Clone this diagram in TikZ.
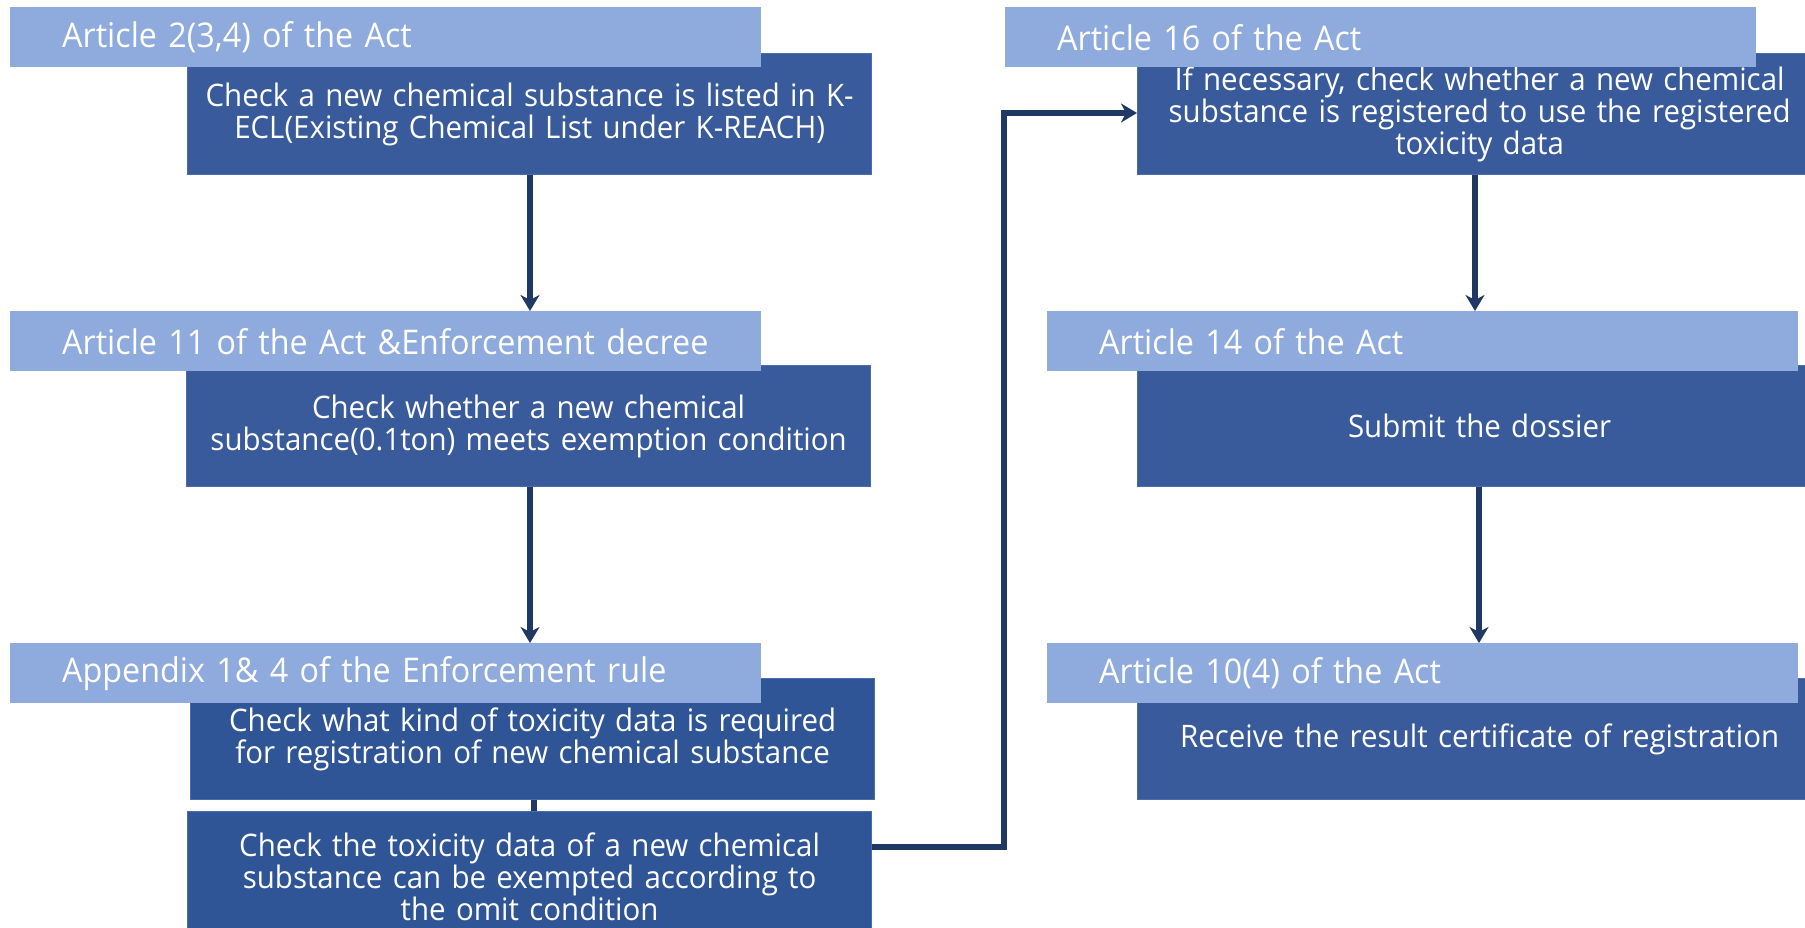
\documentclass[tikz,border=0pt]{standalone}
\usepackage{fontspec}
\setmainfont[FakeStretch=0.95]{Open Sans}
\usetikzlibrary{arrows.meta}
\definecolor{hdr}{RGB}{143,170,220}
\definecolor{boxa}{RGB}{58,91,155}
\definecolor{boxb}{RGB}{47,85,151}
\definecolor{boxedge}{RGB}{74,109,173}
\definecolor{arr}{RGB}{32,56,100}
\tikzset{
  hdrbox/.style={rectangle, fill=hdr, anchor=north west, minimum width=751pt, minimum height=60pt,
    inner xsep=52pt, inner ysep=0pt, text width=647pt, align=left, text=white,
    font=\fontsize{34}{35}\selectfont},
  mainbox/.style={rectangle, fill=boxa, draw=boxedge, line width=1.2pt, anchor=north west,
    minimum width=684pt, minimum height=121pt, inner sep=0pt, text width=676pt, align=center,
    text=white, font=\fontsize{31}{32}\selectfont},
  flow/.style={draw=arr, line width=5.5pt, -{Stealth[length=16pt,width=19pt,inset=5pt]}},
  link/.style={draw=arr, line width=5.5pt}
}
\begin{document}
\begin{tikzpicture}[x=1pt,y=-1pt]
\clip (0,0) rectangle (1805,928);
\fill[white] (0,0) rectangle (1805,928);
% main boxes
\node[mainbox] (b1) at (187,53) {Check a new chemical substance is listed in K-\\ECL(Existing Chemical List under K-REACH)};
\node[mainbox] (b2) at (186,365) {Check whether a new chemical\\substance(0.1ton) meets exemption condition};
\node[mainbox, fill=boxb] (b3) at (190,678) {Check what kind of toxicity data is required\\for registration of new chemical substance};
\node[mainbox, fill=boxb, minimum height=130pt] (b4) at (187,811) {Check the toxicity data of a new chemical\\substance can be exempted according to\\the omit condition};
\node[mainbox] (b5) at (1137,53) {If necessary, check whether a new chemical\\substance is registered to use the registered\\toxicity data};
\node[mainbox] (b6) at (1137,365) {Submit the dossier};
\node[mainbox] (b7) at (1137,678) {Receive the result certificate of registration};
% headers
\node[hdrbox] (h1) at (10,7) {Article 2(3,4) of the Act};
\node[hdrbox] (h2) at (10,311) {Article 11 of the Act \&Enforcement decree};
\node[hdrbox] (h3) at (10,643) {Appendix 1\& 4 of the Enforcement rule};
\node[hdrbox] (h4) at (1005,7) {Article 16 of the Act};
\node[hdrbox] (h5) at (1047,311) {Article 14 of the Act};
\node[hdrbox] (h6) at (1047,643) {Article 10(4) of the Act};
% connectors
\coordinate (c1) at (1004,847);
\coordinate (c2) at (1004,113);
\draw[flow] (b1.south -| 530,0) -- (h2.north -| 530,0);
\draw[flow] (b2.south -| 530,0) -- (h3.north -| 530,0);
\draw[link] (b3.south -| 534,0) -- (b4.north -| 534,0);
\draw[flow, line join=miter] (b4.east |- c1) -- (c1) -- (c2) -- (b5.west |- c2);
\draw[flow] (b5.south -| 1475,0) -- (h5.north -| 1475,0);
\draw[flow] (b6.south -| 1479,0) -- (h6.north -| 1479,0);
\end{tikzpicture}
\end{document}
